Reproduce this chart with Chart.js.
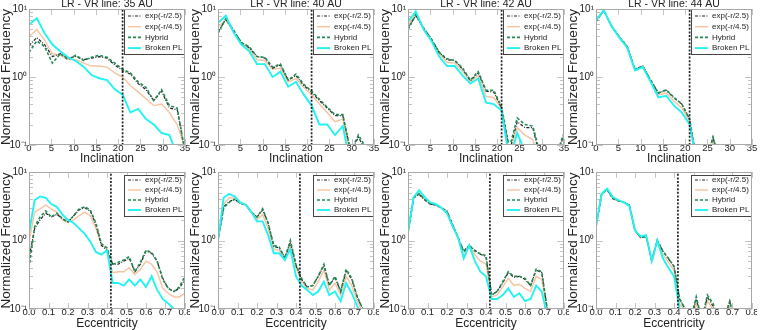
<!DOCTYPE html>
<html><head><meta charset="utf-8">
<script src="https://cdn.jsdelivr.net/npm/chart.js@4.4.0/dist/chart.umd.min.js"></script>
<style>
html,body{margin:0;padding:0;background:#fff;}
#wrap{position:relative;width:760px;height:330px;overflow:hidden;background:#fff;}
#wrap canvas{position:absolute;}
</style></head><body><div id="wrap"></div>
<script>
// ---- categories / ticks ----
const incBins = [0,1.75,3.5,5.25,7,8.75,10.5,12.25,14,15.75,17.5,19.25,21,22.75,24.5,26.25,28,29.75,31.5,33.25,35];
const eccBins = [0,0.029,0.057,0.086,0.114,0.143,0.171,0.2,0.229,0.257,0.286,0.314,0.343,0.371,0.4,0.429,0.457,0.486,0.514,0.543,0.571,0.6,0.629,0.657,0.686,0.714,0.743,0.771,0.8];
const incTicks = [0,5,10,15,20,25,30,35];
const incTickLabels = ['0','5','10','15','20','25','30','35'];
const eccTicks = [0,0.1,0.2,0.3,0.4,0.5,0.6,0.7,0.8];
const eccTickLabels = ['0.0','0.1','0.2','0.3','0.4','0.5','0.6','0.7','0.8'];
const yTicks = [0.1,1,10];
const yTickLabels = ['10\u207B\u00B9','10\u2070','10\u00B9'];
const yMinorTicks = [0.2,0.3,0.4,0.5,0.6,0.7,0.8,0.9,2,3,4,5,6,7,8,9];
const seriesNames = ['exp(-r/2.5)','exp(-r/4.5)','Hybrid','Broken PL'];
const titles = ['LR - VR line: 35 AU','LR - VR line: 40 AU','LR - VR line: 42 AU','LR - VR line: 44 AU'];
const incCut = 21, eccCut = 0.42;

// ---- inclination, 35 AU ----
const inc35_exp25  = [2.9,3.8,3.0,2.0,2.2,1.9,2.0,1.8,1.9,2.0,1.9,1.5,1.25,1.1,0.8,0.65,0.45,0.62,0.35,0.33,0.08];
const inc35_exp45  = [3.9,5.0,3.5,2.2,2.1,1.8,1.8,1.6,1.45,1.45,1.4,1.15,1.0,0.75,0.6,0.48,0.38,0.4,0.3,0.2,0.09];
const inc35_hybrid = [2.3,3.4,2.8,1.6,2.2,1.8,2.1,1.75,1.95,2.1,1.95,1.6,1.3,1.15,0.85,0.7,0.45,0.65,0.38,0.35,0.08];
const inc35_broken = [5.9,7.3,4.4,3.0,2.4,1.95,1.72,1.42,1.07,0.96,0.9,0.66,0.55,0.3,0.34,0.24,0.2,0.15,0.14,0.07,0.05];
// ---- inclination, 40 AU ----
const inc40_exp25  = [4.6,7.0,4.8,3.2,2.7,2.0,1.9,1.35,1.5,0.9,1.05,0.75,0.6,0.45,0.35,0.27,0.27,0.08,0.13,0.08,0.05];
const inc40_exp45  = [5.4,7.0,4.6,3.1,2.6,1.8,1.75,1.3,1.35,0.85,0.95,0.7,0.55,0.4,0.3,0.22,0.24,0.07,0.09,0.05,0.05];
const inc40_hybrid = [4.4,7.2,4.9,3.2,2.8,2.0,1.95,1.4,1.55,0.9,1.1,0.78,0.62,0.47,0.36,0.28,0.28,0.08,0.14,0.09,0.05];
const inc40_broken = [6.2,8.0,4.5,3.0,2.4,1.55,1.55,1.0,1.2,0.72,0.85,0.55,0.38,0.2,0.2,0.14,0.19,0.05,0.05,0.05,0.05];
// ---- inclination, 42 AU ----
const inc42_exp25  = [5.3,8.0,5.3,3.6,2.3,1.8,1.75,1.3,0.88,1.15,0.62,0.6,0.35,0.08,0.22,0.18,0.18,0.06,0.05,0.07,0.14];
const inc42_exp45  = [5.8,8.5,5.1,3.5,2.2,1.65,1.6,1.2,0.85,1.05,0.52,0.5,0.34,0.07,0.18,0.14,0.12,0.05,0.05,0.05,0.09];
const inc42_hybrid = [5.0,8.2,5.2,3.6,2.3,1.85,1.75,1.35,0.9,1.2,0.64,0.64,0.36,0.09,0.25,0.2,0.19,0.07,0.05,0.07,0.15];
const inc42_broken = [6.5,9.2,5.0,3.4,2.0,1.45,1.45,1.05,0.8,0.95,0.42,0.4,0.32,0.06,0.15,0.08,0.1,0.05,0.05,0.05,0.05];
// ---- inclination, 44 AU ----
const inc44_exp25  = [6.6,9.5,5.6,3.9,2.8,1.3,1.45,0.9,0.58,0.64,0.49,0.4,0.24,0.05,0.05,0.13,0.05,0.05,0.05,0.05,0.05];
const inc44_exp45  = [6.7,9.6,5.6,3.8,2.8,1.3,1.42,0.88,0.54,0.58,0.44,0.35,0.22,0.05,0.05,0.11,0.05,0.05,0.05,0.05,0.05];
const inc44_hybrid = [6.6,9.5,5.6,3.9,2.8,1.3,1.45,0.9,0.58,0.65,0.5,0.4,0.24,0.05,0.05,0.13,0.05,0.05,0.05,0.05,0.05];
const inc44_broken = [6.8,9.6,5.6,3.8,2.7,1.25,1.4,0.85,0.5,0.53,0.38,0.3,0.2,0.05,0.05,0.05,0.05,0.05,0.05,0.05,0.05];
// ---- eccentricity, 35 AU ----
const ecc35_exp25  = [0.55,1.5,2.0,2.5,2.2,2.4,2.1,1.85,2.3,2.8,3.0,2.7,1.7,0.85,0.72,0.45,0.45,0.5,0.55,0.35,0.45,0.7,0.65,0.5,0.28,0.2,0.18,0.2,0.27];
const ecc35_exp45  = [0.95,2.6,2.9,3.3,2.9,2.6,2.0,1.85,2.0,2.3,2.6,2.3,1.5,0.9,0.75,0.34,0.35,0.35,0.4,0.32,0.38,0.5,0.45,0.35,0.2,0.17,0.15,0.15,0.17];
const ecc35_hybrid = [0.4,1.6,2.2,2.7,2.2,2.5,2.1,1.85,2.3,2.9,3.1,2.8,1.8,0.9,0.78,0.45,0.48,0.52,0.58,0.35,0.48,0.72,0.67,0.5,0.27,0.2,0.18,0.21,0.3];
const ecc35_broken = [1.28,3.9,4.4,4.2,3.4,3.1,2.4,2.0,1.8,1.5,1.25,0.97,0.68,0.62,0.72,0.24,0.24,0.22,0.27,0.22,0.27,0.21,0.3,0.19,0.14,0.12,0.1,0.08,0.06];
// ---- eccentricity, 40 AU ----
const ecc40_exp25  = [1.0,3.1,3.7,4.0,3.5,3.3,2.6,2.2,2.8,1.8,0.82,0.78,0.56,0.95,0.43,0.27,0.21,0.22,0.3,0.43,0.22,0.29,0.18,0.36,0.27,0.15,0.1,0.09,0.05];
const ecc40_exp45  = [1.0,3.4,4.2,4.2,3.5,3.3,2.6,2.0,2.4,1.5,0.75,0.72,0.52,0.88,0.4,0.25,0.2,0.19,0.25,0.37,0.19,0.24,0.16,0.3,0.22,0.13,0.09,0.07,0.05];
const ecc40_hybrid = [1.0,3.0,3.6,4.0,3.5,3.3,2.6,2.2,2.9,1.8,0.85,0.8,0.55,1.0,0.45,0.28,0.21,0.22,0.3,0.45,0.22,0.3,0.18,0.38,0.28,0.15,0.1,0.08,0.05];
const ecc40_broken = [1.0,4.2,4.8,4.4,3.6,3.3,2.6,1.9,1.9,1.2,0.65,0.65,0.52,0.75,0.3,0.22,0.19,0.16,0.18,0.25,0.16,0.18,0.13,0.24,0.17,0.11,0.08,0.06,0.05];
// ---- eccentricity, 42 AU ----
const ecc42_exp25  = [1.3,4.2,4.7,3.9,3.4,3.3,3.0,2.7,1.7,1.1,0.7,0.85,0.72,0.63,0.58,0.16,0.18,0.24,0.34,0.29,0.3,0.27,0.22,0.37,0.34,0.1,0.05,0.05,0.05];
const ecc42_exp45  = [1.3,4.3,5.0,4.1,3.5,3.3,3.0,2.5,1.6,1.1,0.6,0.85,0.62,0.5,0.45,0.15,0.16,0.21,0.28,0.22,0.23,0.2,0.18,0.3,0.27,0.09,0.05,0.05,0.05];
const ecc42_hybrid = [1.3,4.3,4.8,4.0,3.4,3.3,3.0,2.6,1.7,1.1,0.68,0.85,0.7,0.64,0.6,0.16,0.18,0.25,0.35,0.3,0.3,0.28,0.22,0.38,0.35,0.1,0.05,0.05,0.05];
const ecc42_broken = [1.3,4.3,5.4,4.3,3.6,3.4,3.0,2.5,1.6,1.1,0.55,0.85,0.5,0.35,0.3,0.14,0.14,0.16,0.2,0.15,0.17,0.13,0.14,0.22,0.18,0.08,0.05,0.05,0.05];
// ---- eccentricity, 44 AU ----
const ecc44_exp25  = [1.6,4.8,5.5,4.1,3.8,3.6,3.3,1.4,1.1,1.15,0.52,1.0,0.7,0.54,0.42,0.14,0.1,0.07,0.14,0.07,0.15,0.11,0.07,0.07,0.13,0.06,0.05,0.05,0.05];
const ecc44_exp45  = [1.6,4.8,5.6,4.2,3.85,3.6,3.25,1.4,1.12,1.17,0.5,1.0,0.62,0.48,0.37,0.12,0.09,0.06,0.12,0.06,0.13,0.1,0.06,0.06,0.11,0.05,0.05,0.05,0.05];
const ecc44_hybrid = [1.6,4.8,5.5,4.1,3.8,3.6,3.3,1.4,1.1,1.15,0.5,1.0,0.7,0.55,0.42,0.14,0.1,0.07,0.15,0.07,0.16,0.12,0.07,0.07,0.13,0.06,0.05,0.05,0.05];
const ecc44_broken = [1.6,4.8,5.7,4.3,3.9,3.6,3.2,1.4,1.15,1.2,0.5,1.0,0.55,0.4,0.3,0.1,0.05,0.05,0.09,0.05,0.09,0.05,0.05,0.05,0.07,0.05,0.05,0.05,0.05];

const FONT = '"Liberation Sans", Arial, Helvetica, sans-serif';
Chart.defaults.font.family = FONT;
Chart.defaults.color = '#222';

const styles = [
  {borderColor:'#222222', borderWidth:1.2, borderDash:[3,1.5,1,1.5], order:3},
  {borderColor:'#f6c3a0', borderWidth:1.4, borderDash:[], order:4},
  {borderColor:'#238a52', borderWidth:1.6, borderDash:[3,2], order:2},
  {borderColor:'#22f2f2', borderWidth:1.9, borderDash:[], order:1}
];

const frameTicks = {
  id:'frameTicks',
  beforeDatasetsDraw(chart, args, o){
    const {ctx, chartArea:a, scales:{x,y}} = chart;
    ctx.save();
    ctx.strokeStyle = '#c4c4c4'; ctx.lineWidth = 1;
    ctx.beginPath();
    o.xt.forEach(v=>{
      const p = Math.round(x.getPixelForValue(v))+0.5;
      ctx.moveTo(p,a.bottom); ctx.lineTo(p,a.bottom-6);
      ctx.moveTo(p,a.top); ctx.lineTo(p,a.top+6);
    });
    yMinorTicks.forEach(v=>{
      const p = Math.round(y.getPixelForValue(v))+0.5;
      ctx.moveTo(a.left,p); ctx.lineTo(a.left+4,p);
      ctx.moveTo(a.right,p); ctx.lineTo(a.right-4,p);
    });
    yTicks.forEach(v=>{
      const p = Math.round(y.getPixelForValue(v))+0.5;
      ctx.moveTo(a.left,p); ctx.lineTo(a.left+7,p);
      ctx.moveTo(a.right,p); ctx.lineTo(a.right-7,p);
    });
    ctx.stroke();
    ctx.restore();
  },
  afterDraw(chart){
    const {ctx, chartArea:a} = chart;
    ctx.save();
    ctx.strokeStyle = '#a8a8a8'; ctx.lineWidth = 1;
    ctx.strokeRect(Math.round(a.left)+0.5, Math.round(a.top)+0.5, Math.round(a.right-a.left)-1, Math.round(a.bottom-a.top)-1);
    ctx.restore();
  }
};

const boxLegend = {
  id:'boxLegend',
  afterDatasetsDraw(chart, args, o){
    const {ctx, chartArea:a} = chart;
    const w = 61, left = Math.round(a.right - w), top = Math.round(a.top + o.dy);
    ctx.save();
    ctx.fillStyle = '#fff';
    ctx.fillRect(left, top, w, o.h);
    ctx.strokeStyle = '#444'; ctx.lineWidth = 1;
    ctx.strokeRect(left+0.5, top+0.5, w-1, o.h-1);
    ctx.font = '8px ' + FONT; ctx.textBaseline = 'middle'; ctx.textAlign = 'left';
    chart.data.datasets.slice(0,4).forEach((ds,i)=>{
      const yy = top + o.y0 + i*o.step;
      ctx.strokeStyle = ds.borderColor; ctx.lineWidth = ds.borderWidth;
      ctx.setLineDash(ds.borderDash || []);
      ctx.beginPath(); ctx.moveTo(left+4, yy); ctx.lineTo(left+17, yy); ctx.stroke();
      ctx.setLineDash([]);
      ctx.fillStyle = '#222';
      ctx.fillText(ds.label, left+21, yy);
    });
    ctx.restore();
  }
};

const panels = [
  {row:0,col:0,bins:incBins,s:[inc35_exp25,inc35_exp45,inc35_hybrid,inc35_broken]},
  {row:0,col:1,bins:incBins,s:[inc40_exp25,inc40_exp45,inc40_hybrid,inc40_broken]},
  {row:0,col:2,bins:incBins,s:[inc42_exp25,inc42_exp45,inc42_hybrid,inc42_broken]},
  {row:0,col:3,bins:incBins,s:[inc44_exp25,inc44_exp45,inc44_hybrid,inc44_broken]},
  {row:1,col:0,bins:eccBins,s:[ecc35_exp25,ecc35_exp45,ecc35_hybrid,ecc35_broken]},
  {row:1,col:1,bins:eccBins,s:[ecc40_exp25,ecc40_exp45,ecc40_hybrid,ecc40_broken]},
  {row:1,col:2,bins:eccBins,s:[ecc42_exp25,ecc42_exp45,ecc42_hybrid,ecc42_broken]},
  {row:1,col:3,bins:eccBins,s:[ecc44_exp25,ecc44_exp45,ecc44_hybrid,ecc44_broken]}
];
const colLeft = [0,189,379,567];
const wrap = document.getElementById('wrap');

panels.forEach(p=>{
  const isInc = p.row === 0;
  const cv = document.createElement('canvas');
  cv.width = 190; cv.height = 165;
  cv.style.left = colLeft[p.col]+'px';
  cv.style.top = (p.row*165)+'px';
  wrap.appendChild(cv);
  const xt = isInc ? incTicks : eccTicks;
  const xl = isInc ? incTickLabels : eccTickLabels;
  const cut = isInc ? incCut : eccCut;
  const datasets = p.s.map((arr,i)=>({
    label: seriesNames[i],
    data: p.bins.map((b,j)=>({x:b, y:arr[j]})),
    borderColor: styles[i].borderColor,
    borderWidth: styles[i].borderWidth,
    borderDash: styles[i].borderDash,
    order: styles[i].order,
    pointRadius:0, fill:false, tension:0
  }));
  datasets.push({label:'cut', data:[{x:cut,y:0.1},{x:cut,y:10}], borderColor:'#222', borderWidth:1.7, borderDash:[2,1.6], pointRadius:0, order:0});
  new Chart(cv, {
    type:'line',
    data:{datasets},
    options:{
      responsive:false, animation:false, devicePixelRatio:1, events:[],
      layout:{padding:{left:0,right:5,top:isInc?0:7,bottom:0}},
      scales:{
        x:{type:'linear', min:0, max:isInc?35:0.8,
           grid:{display:false, drawTicks:false}, border:{display:false},
           afterBuildTicks:s=>{ s.ticks = xt.map(v=>({value:v})); },
           afterFit:s=>{ s.height = isInc?20:21; s.paddingLeft=0; s.paddingRight=0; },
           ticks:{autoSkip:false, maxRotation:0, minRotation:0, padding:-1, color:'#222',
                  font:{size:9.5, lineHeight:1},
                  callback:(v,i)=>xl[i]},
           title:{display:true, text:isInc?'Inclination':'Eccentricity', color:'#222',
                  font:{size:12, lineHeight:1}, padding:{top:0,bottom:0.5}}
        },
        y:{type:'logarithmic', min:0.1, max:10,
           grid:{display:false, drawTicks:false}, border:{display:false},
           afterBuildTicks:s=>{ s.ticks = yTicks.map(v=>({value:v})); },
           afterFit:s=>{ s.width = 29; s.paddingTop=0; s.paddingBottom=0; },
           ticks:{padding:2, color:'#222', font:{size:10, lineHeight:1},
                  callback:(v,i)=>yTickLabels[i]},
           title:{display:true, text:'Normalized Frequency', color:'#222',
                  font:{size:13.5, lineHeight:1}, padding:0}
        }
      },
      plugins:{
        legend:{display:false}, tooltip:{enabled:false},
        title:{display:isInc, text:titles[p.col], color:'#222', fullSize:false,
               font:{size:10.5, lineHeight:0.86, weight:'normal'}, padding:0},
        frameTicks:{xt},
        boxLegend: isInc ? {dy:0, h:46, y0:7, step:10.7} : {dy:3, h:42, y0:5, step:10}
      }
    },
    plugins:[frameTicks, boxLegend]
  });
});
</script></body></html>
